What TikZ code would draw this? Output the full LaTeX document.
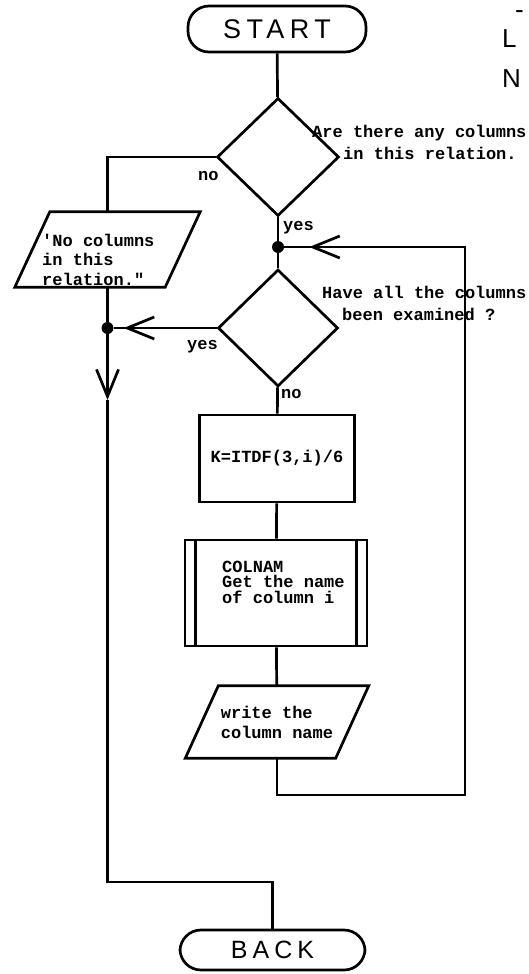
\documentclass[tikz,border=0pt]{standalone}
\usepackage{fontspec}
\setmonofont{Liberation Mono}
\newfontfamily\termfont[LetterSpace=20]{Liberation Sans}
\newfontfamily\plainsans{Liberation Sans}
\usetikzlibrary{shapes.geometric,arrows.meta}
\tikzset{
  ln/.style={line width=2.7pt, line join=miter},
  term/.style={draw, ln, rounded corners=21pt, inner sep=0pt},
  dec/.style={draw, ln, diamond, inner sep=0pt},
  proc/.style={draw, ln, rectangle, inner sep=0pt},
  iobody/.style={rectangle, inner sep=0pt},
  txt/.style={font=\ttfamily\bfseries\fontsize{17}{20}\selectfont, inner sep=0pt, align=left},
  jdot/.style={circle, fill, inner sep=0pt, minimum size=12pt},
  opena/.style={-{Straight Barb[length=27pt,width=22pt]}},
  sideletter/.style={font=\plainsans\fontsize{26}{26}\selectfont, inner sep=0pt, anchor=base west},
}
\begin{document}
\begin{tikzpicture}[x=1pt,y=-1pt]
\useasboundingbox (0,0) rectangle (529,974);

% terminals
\node[term, minimum width=178pt, minimum height=46pt, font=\termfont\fontsize{27}{27}\selectfont] (start) at (277,29) {START};
\node[term, minimum width=185pt, minimum height=40pt, font=\termfont\fontsize{25}{25}\selectfont] (back) at (272.5,950) {BACK};

% decisions
\node[dec, minimum width=122pt, minimum height=118pt] (d1) at (278,157) {};
\node[dec, minimum width=120pt, minimum height=117pt] (d2) at (278,328) {};
\node[txt, anchor=base west, font=\ttfamily\bfseries\fontsize{17}{22}\selectfont] (q1) at (312,159) {Are there any columns\\\hspace*{31pt}in this relation.};
\node[txt, anchor=base west, font=\ttfamily\bfseries\fontsize{17}{22}\selectfont] (q2) at (322,320) {Have all the columns\\\hspace*{20pt}been examined ?};

% junctions
\node[jdot] (j1) at (278,247) {};
\node[jdot] (j2) at (107.5,328) {};

% process
\node[proc, txt, minimum width=155pt, minimum height=87pt] (k) at (277,458.5) {K=ITDF(3,i)/6};

% predefined process
\node[proc, minimum width=182pt, minimum height=106pt] (cn) at (276,593) {};
\draw[ln] ([xshift=12pt]cn.north west) -- ([xshift=12pt]cn.south west);
\draw[ln] ([xshift=-12pt]cn.north east) -- ([xshift=-12pt]cn.south east);
\node[txt, anchor=base west, font=\ttfamily\bfseries\fontsize{17}{15.5}\selectfont] (cnt) at (222,603) {COLNAM\\Get the name\\of column i};

% input/output
\node[iobody, minimum width=150pt, minimum height=75pt] (p1) at (107.5,249.5) {};
\draw[ln] ([xshift=17.5pt]p1.north west) -- ([xshift=17.5pt]p1.north east) -- ([xshift=-17.5pt]p1.south east) -- ([xshift=-17.5pt]p1.south west) -- cycle;
\node[txt, anchor=base west, font=\ttfamily\bfseries\fontsize{17}{19.5}\selectfont] (p1t) at (42,285) {'No columns\\in this\\relation."};

\node[iobody, txt, minimum width=150pt, minimum height=72pt] (p2) at (277,722) {write the\\column name};
\draw[ln] ([xshift=16.5pt]p2.north west) -- ([xshift=16.5pt]p2.north east) -- ([xshift=-16.5pt]p2.south east) -- ([xshift=-16.5pt]p2.south west) -- cycle;

% labels
\node[txt, anchor=base west] (no1) at (198,180) {no};
\node[txt, anchor=base west] (yes1) at (283,230) {yes};
\node[txt, anchor=base west] (yes2) at (187,349) {yes};
\node[txt, anchor=base west] (no2) at (281,398) {no};

% cut-off letters at the right edge
\node[sideletter] (tdash) at (515,19) {-};
\node[sideletter] (tl) at (502,48) {L};
\node[sideletter] (tn) at (502,87) {N};

% connectors
\coordinate (a2) at (107.5,400);
\coordinate (c1) at (107.5,882);
\coordinate (c2) at (465,795);
\coordinate (c3) at (465,247);

\draw[ln] (start) -- (d1);
\draw[ln] (d1) -- (j1);
\draw[ln] (j1) -- (d2);
\draw[ln] (d1.west) -| (p1.north);
\draw[ln] (p1.south) -- (j2);
\draw[ln] (d2.west) -- (j2);
\draw[ln, opena, shorten >=10pt] (d2.west) -- (j2);
\draw[ln, opena] (j2) -- (a2);
\draw[ln] (a2) -- (c1) -| (back);
\draw[ln] (d2) -- (k);
\draw[ln] (k) -- (cn);
\draw[ln] (cn) -- (p2);
\draw[ln] (p2.south) |- (c2) -- (c3) -- (j1);
\draw[ln, opena, shorten >=25pt] (c3) -- (j1);
\end{tikzpicture}
\end{document}
